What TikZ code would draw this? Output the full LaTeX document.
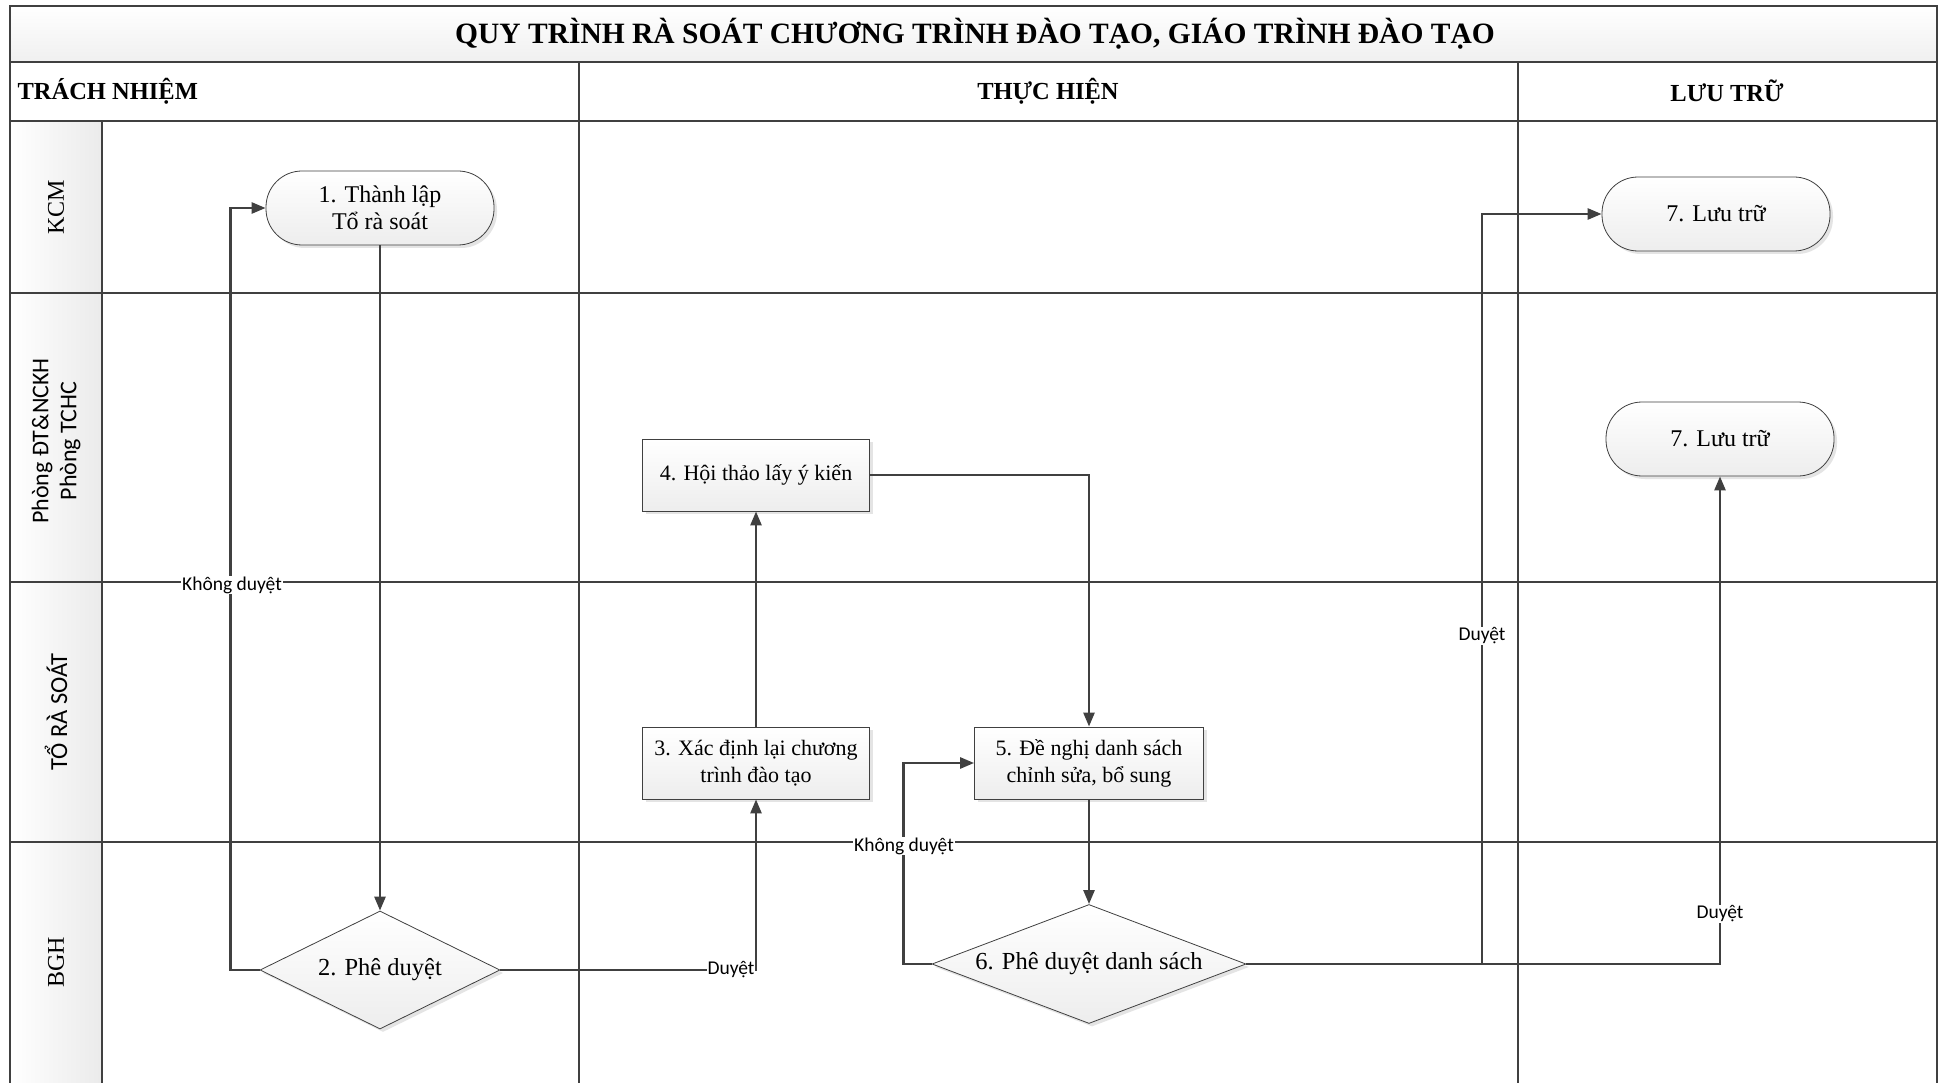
\documentclass[tikz,border=0pt]{standalone}
\usepackage{fontspec}
\setmainfont{Liberation Serif}
\newfontfamily\lblfont{Carlito}
\usetikzlibrary{shapes.geometric,arrows.meta,shadows}
\definecolor{linec}{HTML}{404040}
\begin{document}
\begin{tikzpicture}[x=1pt,y=-1pt,
 gridline/.style={draw=linec,line width=1.8pt},
 conn/.style={draw=linec,line width=2.6pt,-{Triangle[length=14pt,width=11pt]}},
 boxbase/.style={draw=linec,line width=0.8pt,top color=white,bottom color=gray!14,align=center,
   font=\fontsize{22}{27}\selectfont,
   drop shadow={shadow xshift=3pt,shadow yshift=-3pt,fill=gray!35,opacity=0.6}},
 procbox/.style={boxbase,rectangle,minimum width=227pt,minimum height=72pt,inner sep=2pt},
 termbox/.style={boxbase,rectangle,rounded corners=36pt,minimum width=228pt,minimum height=74pt,
   font=\fontsize{24}{27}\selectfont},
 decbox/.style={boxbase,diamond,inner sep=0pt,font=\fontsize{24.5}{28}\selectfont},
 lane/.style={rotate=90,font=\fontsize{24}{29}\selectfont,align=center},
 hdr/.style={font=\bfseries\fontsize{24.5}{28}\selectfont},
 lbl/.style={fill=white,inner sep=1pt,font=\lblfont\fontsize{19.5}{21}\selectfont}
]
\fill[white] (0,0) rectangle (1949,1083);
\useasboundingbox (0,0) rectangle (1949,1083);
% backgrounds
\shade[top color=white,bottom color=gray!12] (10,6) rectangle (1937,62);
\shade[left color=white,right color=gray!16] (10,121) rectangle (102,1083);
% grid
\draw[gridline] (10,1083) -- (10,6) -- (1937,6) -- (1937,1083);
\draw[gridline] (10,62) -- (1937,62);
\draw[gridline] (10,121) -- (1937,121);
\draw[gridline] (10,293) -- (1937,293);
\draw[gridline] (10,582) -- (1937,582);
\draw[gridline] (10,842) -- (1937,842);
\draw[gridline] (579,62) -- (579,1083);
\draw[gridline] (1518,62) -- (1518,1083);
\draw[gridline] (102,121) -- (102,1083);
% headers
\node[hdr,font=\bfseries\fontsize{29.5}{32}\selectfont] (title) at (975,34) {QUY TRÌNH RÀ SOÁT CHƯƠNG TRÌNH ĐÀO TẠO, GIÁO TRÌNH ĐÀO TẠO};
\node[hdr,anchor=west] (h1) at (14,91) {TRÁCH NHIỆM};
\node[hdr] (h2) at (1048,91) {THỰC HIỆN};
\node[hdr] (h3) at (1727,91) {LƯU TRỮ};
% lanes
\node[lane] (lkcm) at (56,207) {KCM};
\node[lane,font=\lblfont\fontsize{24}{28}\selectfont] (lp) at (56,441) {Phòng ĐT\&NCKH\\Phòng TCHC};
\node[lane,font=\lblfont\fontsize{24.5}{28}\selectfont] (lt) at (56,712) {TỔ RÀ SOÁT};
\node[lane] (lb) at (56,962) {BGH};
% nodes
\node[termbox] (n1) at (380,208) {1. Thành lập\\Tổ rà soát};
\node[decbox,minimum width=240pt,minimum height=118pt,aspect=2] (n2) at (380,970) {2. Phê duyệt};
\node[procbox] (n3) at (756,763) {3. Xác định lại chương\\trình đào tạo};
\node[procbox] (n4) at (756,475) {4. Hội thảo lấy ý kiến};
\node[procbox,minimum width=229pt] (n5) at (1089,763) {5. Đề nghị danh sách\\chỉnh sửa, bổ sung};
\node[decbox,minimum width=314pt,minimum height=119pt,aspect=2.6] (n6) at (1089,964) {6. Phê duyệt danh sách};
\node[termbox] (n7a) at (1716,214) {7. Lưu trữ};
\node[termbox] (n7b) at (1720,439) {7. Lưu trữ};
\coordinate (br) at (1482,964);
% connectors
\draw[conn] (n1.south) -- (n2.north);
\draw[conn] (n2.west) -- ++(-29,0) |- (n1.west);
\draw[conn] (n2.east) -| (n3.south);
\draw[conn] (n3.north) -- (n4.south);
\draw[conn] (n4.east) -| (n5.north);
\draw[conn] (n5.south) -- (n6.north);
\draw[conn] (n6.west) -- ++(-28,0) |- (n5.west);
\draw[conn] (n6.east) -| (n7b.south);
\draw[conn] (br) |- (n7a.west);
% labels
\node[lbl] (l1) at (232,585) {Không duyệt};
\node[lbl] (l2) at (731,970) {Duyệt};
\node[lbl] (l3) at (904,846) {Không duyệt};
\node[lbl] (l4) at (1482,636) {Duyệt};
\node[lbl] (l5) at (1720,914) {Duyệt};
\end{tikzpicture}
\end{document}
